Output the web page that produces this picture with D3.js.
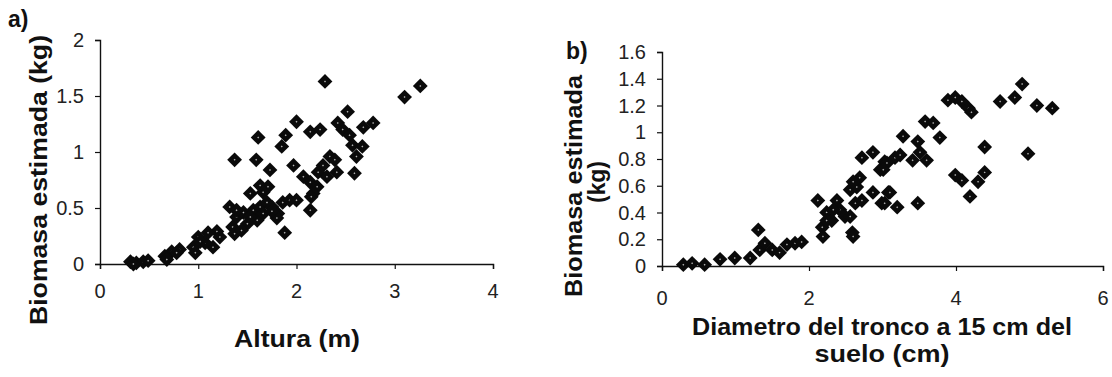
<!DOCTYPE html>
<html>
<head>
<meta charset="utf-8">
<script src="https://cdn.jsdelivr.net/npm/d3@7"></script>
<style>
  body { margin: 0; background: #fff; }
  svg { display: block; font-family: "Liberation Sans", Arial, sans-serif; }
</style>
</head>
<body>
<svg id="chart" width="1112" height="377"></svg>
<script>
// panel a) altura (m) vs biomasa (kg)
var alturaA = [2.29, 3.10, 3.26, 2.52, 2.42, 2.47, 2.54, 2.57, 2.67, 2.61, 2.59, 2.68, 2.78, 2.00, 2.14, 2.24,
    1.61, 1.89, 1.85, 1.37, 1.59, 1.73, 1.97, 2.34, 2.39, 2.27, 2.22, 2.41, 2.31, 2.07, 2.14, 2.21, 2.17, 2.15,
    2.14, 1.63, 1.71, 1.66, 1.53, 1.88, 1.32, 1.39, 1.46, 1.56, 1.63, 1.70, 1.75, 1.81, 1.86, 1.93, 2.00, 1.80,
    1.60, 1.50, 1.35, 1.37, 1.44, 1.53, 1.66, 1.75, 1.39, 1.00, 1.19, 1.15, 1.07, 0.95, 0.97, 1.02, 1.22, 1.10,
    0.81, 0.73, 0.66, 0.68, 0.78, 0.31, 0.37, 0.44, 0.49, 0.34];
var biomasaA = [1.63, 1.49, 1.59, 1.36, 1.26, 1.20, 1.15, 1.06, 1.05, 0.96, 0.81, 1.22, 1.26, 1.27, 1.18, 1.20,
    1.13, 1.15, 1.05, 0.93, 0.93, 0.84, 0.88, 0.96, 0.93, 0.88, 0.82, 0.82, 0.78, 0.78, 0.73, 0.69, 0.63, 0.60,
    0.48, 0.70, 0.69, 0.64, 0.63, 0.28, 0.51, 0.42, 0.46, 0.48, 0.51, 0.55, 0.51, 0.45, 0.55, 0.57, 0.57, 0.41,
    0.39, 0.36, 0.33, 0.27, 0.30, 0.42, 0.45, 0.47, 0.48, 0.24, 0.29, 0.15, 0.19, 0.15, 0.10, 0.20, 0.24, 0.28,
    0.13, 0.11, 0.07, 0.04, 0.10, 0.02, 0.01, 0.02, 0.03, 0.00];

// panel b) diametro (cm) vs biomasa (kg)
var diametroB = [0.29, 0.41, 0.58, 0.79, 0.99, 1.20, 1.31, 1.33, 1.40, 1.50, 1.60, 1.70, 1.81, 1.90,
    2.12, 2.18, 2.19, 2.24, 2.31, 2.38, 2.42, 2.49, 2.33, 2.24, 2.56, 2.59, 2.60, 2.63, 2.56, 2.65, 2.69,
    2.72, 2.60, 2.72, 2.87, 2.97, 3.03, 2.87, 2.99, 3.08, 4.90, 4.80, 4.60, 5.10, 5.31, 4.98, 4.39, 4.39,
    4.30, 4.19, 3.99, 4.08, 3.89, 3.99, 4.08, 4.17, 4.21, 3.58, 3.69, 3.78, 3.28, 3.48, 3.51, 3.60, 3.17,
    3.06, 3.01, 3.24, 3.10, 3.20, 3.03, 3.48, 3.41];
var biomasaB = [0.01, 0.02, 0.01, 0.05, 0.06, 0.06, 0.27, 0.12, 0.17, 0.12, 0.10, 0.16, 0.17, 0.18,
    0.49, 0.29, 0.22, 0.40, 0.34, 0.49, 0.42, 0.37, 0.42, 0.34, 0.37, 0.25, 0.22, 0.47, 0.57, 0.59, 0.66,
    0.81, 0.63, 0.49, 0.85, 0.72, 0.78, 0.55, 0.47, 0.55, 1.36, 1.26, 1.23, 1.20, 1.18, 0.84, 0.89, 0.70,
    0.63, 0.52, 0.68, 0.64, 1.24, 1.26, 1.23, 1.18, 1.15, 1.08, 1.07, 0.96, 0.97, 0.93, 0.85, 0.79, 0.81,
    0.77, 0.72, 0.83, 0.55, 0.44, 0.47, 0.47, 0.79];

var ticksXA = [0, 1, 2, 3, 4],
    ticksYA = [0, 0.5, 1, 1.5, 2],
    ticksXB = [0, 2, 4, 6],
    ticksYB = [0, 0.2, 0.4, 0.6, 0.8, 1, 1.2, 1.4, 1.6];

var svg = d3.select('#chart');

function drawPanel(opts) {
    var x = d3.scaleLinear().domain(opts.xDomain).range([opts.left, opts.right]),
        y = d3.scaleLinear().domain(opts.yDomain).range([opts.bottom, opts.top]);

    var g = svg.append('g');

    // axes
    var xAxis = g.append('g')
        .attr('transform', 'translate(0,' + opts.bottom + ')')
        .call(d3.axisBottom(x).tickValues(opts.xTicks).tickSize(5).tickFormat(''));
    var yAxis = g.append('g')
        .attr('transform', 'translate(' + opts.left + ',0)')
        .call(d3.axisLeft(y).tickValues(opts.yTicks).tickSize(5).tickFormat(''));

    [xAxis, yAxis].forEach(function(a) {
        a.select('.domain').attr('stroke', '#111').attr('stroke-width', 1.4);
        a.selectAll('.tick line').attr('stroke', '#111').attr('stroke-width', 1.2);
    });

    // tick labels
    g.selectAll('.xlab')
        .data(opts.xTicks)
        .enter().append('text')
        .attr('x', function(d) { return x(d); })
        .attr('y', opts.xLabelY)
        .attr('text-anchor', 'middle')
        .attr('font-size', 20)
        .attr('fill', '#222')
        .text(function(d) { return d; });

    g.selectAll('.ylab')
        .data(opts.yTicks)
        .enter().append('text')
        .attr('x', opts.left - 16)
        .attr('y', function(d) { return y(d) + 7; })
        .attr('text-anchor', 'end')
        .attr('font-size', 20)
        .attr('fill', '#222')
        .text(function(d) { return d; });

    // points: filled diamonds
    var pts = opts.xs.map(function(v, i) { return [v, opts.ys[i]]; });

    var pt = g.selectAll('.pt')
        .data(pts)
        .enter().append('g')
        .attr('transform', function(d) {
            return 'translate(' + x(d[0]) + ',' + y(d[1]) + ') rotate(45)';
        });
    pt.append('path')
        .attr('d', d3.symbol().type(d3.symbolSquare).size(110))
        .attr('fill', '#0a0a0a');
    pt.append('path')
        .attr('d', d3.symbol().type(d3.symbolSquare).size(2))
        .attr('fill', '#fff')
        .attr('opacity', 0.7);

    return g;
}

drawPanel({
    xs: alturaA, ys: biomasaA,
    xDomain: [0, 4], yDomain: [0, 2],
    left: 100, right: 493, top: 40, bottom: 264,
    xTicks: ticksXA, yTicks: ticksYA,
    xLabelY: 298
});

drawPanel({
    xs: diametroB, ys: biomasaB,
    xDomain: [0, 6], yDomain: [0, 1.6],
    left: 662, right: 1103, top: 52, bottom: 266,
    xTicks: ticksXB, yTicks: ticksYB,
    xLabelY: 305
});

// titles
function title(txt, x, y, len, rotate) {
    var t = svg.append('text')
        .attr('font-weight', 'bold')
        .attr('fill', '#111')
        .attr('font-size', 23)
        .attr('text-anchor', 'middle')
        .attr('transform', 'translate(' + x + ',' + y + ')' + (rotate ? ' rotate(-90)' : ''))
        .text(txt);
    if (len) t.attr('textLength', len).attr('lengthAdjust', 'spacingAndGlyphs');
    return t;
}

svg.append('text').attr('x', 8).attr('y', 27).attr('font-size', 23)
    .attr('font-weight', 'bold').attr('fill', '#111').text('a)');
svg.append('text').attr('x', 566).attr('y', 59).attr('font-size', 23)
    .attr('font-weight', 'bold').attr('fill', '#111').text('b)');

title('Biomasa estimada (kg)', 47, 180, 290, true);
title('Altura (m)', 297, 347, 126);
title('Biomasa estimada', 582, 186, 222, true);
title('(kg)', 605, 182, 42, true);
title('Diametro del tronco a 15 cm del', 882, 335, 380);
title('suelo (cm)', 882, 362, 135);
</script>
</body>
</html>
